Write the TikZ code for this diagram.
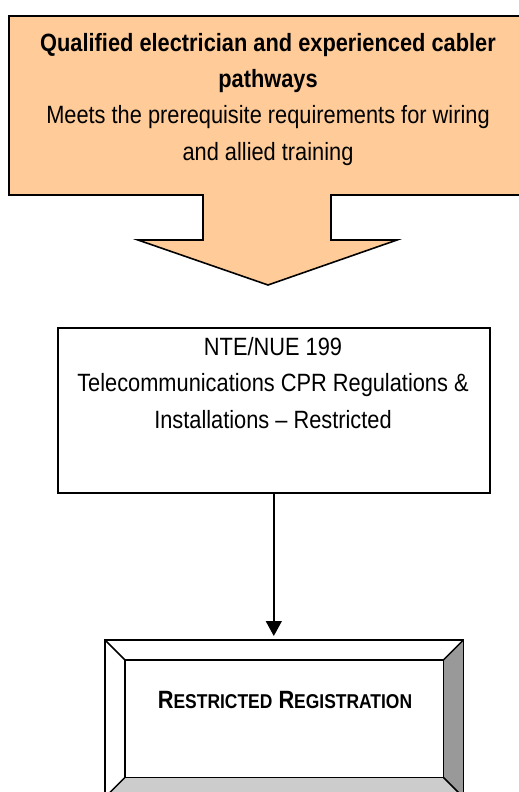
\documentclass[tikz,border=0pt]{standalone}
\usepackage{fontspec}
\setmainfont[FakeStretch=0.872]{Liberation Sans}
\usetikzlibrary{arrows.meta}
\definecolor{peach}{RGB}{255,204,153}
\definecolor{bevelside}{RGB}{153,153,153}
\definecolor{bevelbase}{RGB}{204,204,204}
\newcommand{\bodyfont}{\fontsize{25}{36.3}\selectfont}
\newcommand{\capsmall}{\fontsize{20}{24}\selectfont}
\begin{document}
\begin{tikzpicture}[x=1pt,y=-1pt,
  outline/.style={draw=black,line width=1.6pt},
  callout/.style={outline,fill=peach,line join=miter},
  txt/.style={align=center,font=\bodyfont,inner sep=0pt},
  connector/.style={line width=1.4pt,-{Triangle[length=15pt,width=16pt]}}]
\useasboundingbox (0,0) rectangle (519,792);
\clip (0,0) rectangle (519,792);

% downward block-arrow callout
\draw[callout] (9,16) -- (527,16) -- (527,195) -- (331,195) -- (331,240)
  -- (397,240) -- (268,285) -- (138,240) -- (203,240) -- (203,195)
  -- (9,195) -- cycle;
% the base anchor of a multi-line node sits on its last line
\node[txt,anchor=base] (pathways) at (268,160)
  {\textbf{Qualified electrician and experienced cabler}\\
   \textbf{pathways}\\
   Meets the prerequisite requirements for wiring\\
   and allied training};

% unit box
\node[outline,fill=white,minimum width=432pt,minimum height=165pt,
  inner sep=0pt,anchor=north west] (nte) at (57,327) {};
\node[txt,anchor=base] (ntetext) at (273,428)
  {NTE/NUE 199\\
   Telecommunications CPR Regulations \&\\
   Installations -- Restricted};

% bevelled outcome box
\node[minimum width=358pt,minimum height=157pt,inner sep=0pt,
  anchor=north west] (reg) at (105,640) {};
\coordinate (iNW) at ([shift={(20,20)}]reg.north west);
\coordinate (iNE) at ([shift={(-20,20)}]reg.north east);
\coordinate (iSE) at ([shift={(-20,-20)}]reg.south east);
\coordinate (iSW) at ([shift={(20,-20)}]reg.south west);
\fill[white] (reg.north west) rectangle (reg.south east);
\fill[bevelside] (reg.north east) -- (reg.south east) -- (iSE) -- (iNE) -- cycle;
\fill[bevelbase] (reg.south west) -- (reg.south east) -- (iSE) -- (iSW) -- cycle;
\draw[line width=1.5pt] (reg.north west) rectangle (reg.south east);
\draw[line width=1.5pt] (iNW) rectangle (iSE);
\draw[line width=1.5pt] (reg.north west) -- (iNW) (reg.north east) -- (iNE)
  (reg.south east) -- (iSE) (reg.south west) -- (iSW);
\node[anchor=base,inner sep=0pt,font=\bodyfont\bfseries] (regtext) at (285,708)
  {R{\capsmall ESTRICTED} R{\capsmall EGISTRATION}};

% connector
\draw[connector,shorten >=4pt] (nte.south) -- (nte.south |- reg.north);
\end{tikzpicture}
\end{document}
